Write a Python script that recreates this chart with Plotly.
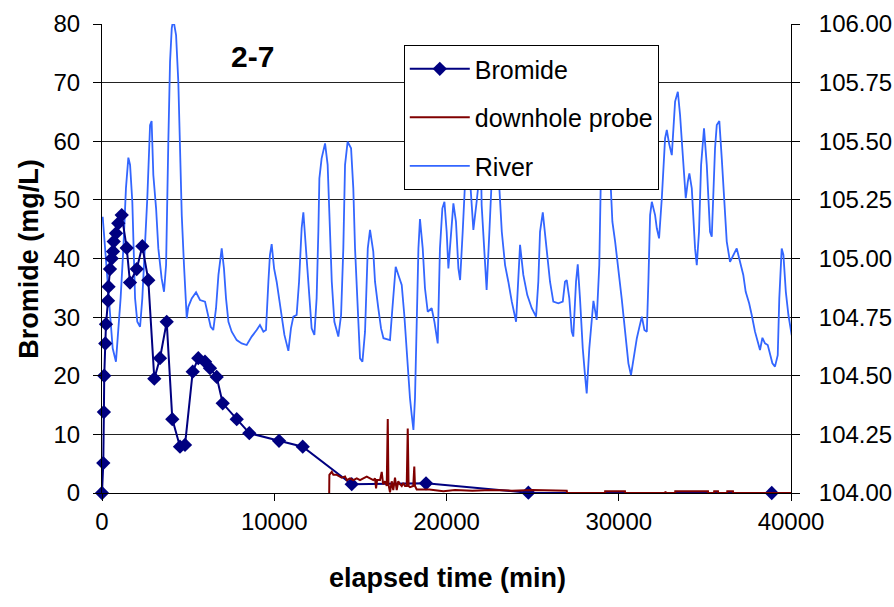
import plotly.graph_objects as go

# ---------------- data ----------------
bromide_t = [0, 75, 110, 130, 192, 232, 350, 380, 464, 563,
             640, 680, 813, 946, 1144, 1434, 1626, 2015, 2340, 2688,
             3037, 3367, 3756, 4082, 4529, 4819, 5266, 5591, 5980, 6270,
             6659, 7008, 7821, 8552, 10277, 11653, 14498, 18811, 24751, 38882]
bromide_v = [0, 5.1, 13.8, 20.0, 25.5, 28.8, 32.8, 35.2, 38.2, 40.0,
             41.2, 42.9, 44.3, 46.0, 47.4, 41.8, 35.9, 38.2, 42.1, 36.3,
             19.5, 23.0, 29.2, 12.6, 7.9, 8.2, 20.7, 23.0, 22.4, 21.3,
             19.8, 15.3, 12.6, 10.2, 8.9, 7.9, 1.5, 1.65, 0.05, 0]

probe_t = [13190, 13200, 13340, 13430, 13630, 13780, 13920, 14110, 14210, 14400,
           14590, 14790, 14980, 15170, 15370, 15560, 15750, 15850, 15910, 15970,
           16140, 16240, 16320, 16430, 16530, 16590, 16630, 16720, 16820, 16910,
           17010, 17110, 17200, 17300, 17400, 17490, 17590, 17690, 17750, 17800,
           17880, 18070, 18130, 18170, 18270, 19000, 19820, 20500, 21500, 22600,
           23800, 25000, 26000, 26980, 27000, 29200, 29210, 30360, 30370, 32690,
           32700, 32750, 33270, 33280, 35180, 35190, 35530, 35540, 35760, 35770,
           36290, 36300, 36630, 36640, 40500]
probe_v = [0, 3.1, 3.6, 3.1, 3.1, 2.8, 2.6, 2.8, 2.2, 2.5,
           2.2, 2.5, 2.2, 2.5, 2.8, 2.5, 2.2, 2.5, 0.8, 2.2,
           2.2, 3.6, 1.5, 2.0, 1.2, 12.6, 1.5, 0.1, 2.0, 0.5,
           2.6, 0.5, 2.0, 1.5, 1.2, 1.7, 1.2, 1.2, 11.0, 1.2,
           1.0, 1.2, 4.5, 1.2, 0.6, 0.6, 0.3, 0.5, 0.4, 0.5,
           0.4, 0.5, 0.4, 0.4, 0, 0, 0.3, 0.3, 0, 0,
           0.25, 0, 0, 0.3, 0.3, 0, 0, 0.3, 0.3, 0,
           0, 0.3, 0.3, 0, 0]

river_t = [40, 170, 310, 460, 620, 810, 950, 1080, 1240, 1390,
           1530, 1630, 1760, 1820, 1920, 2050, 2210, 2340, 2500, 2630,
           2790, 2880, 2980, 3140, 3270, 3460, 3600, 3720, 3850, 3950,
           4050, 4140, 4300, 4430, 4530, 4630, 4760, 4920, 5010, 5210,
           5460, 5690, 5980, 6170, 6310, 6460, 6620, 6760, 6950, 7080,
           7200, 7340, 7530, 7820, 8110, 8400, 8690, 8980, 9170, 9370,
           9520, 9660, 9750, 9850, 9990, 10140, 10280, 10430, 10590, 10820,
           10970, 11110, 11300, 11440, 11590, 11690, 11820, 11980, 12170, 12330,
           12460, 12560, 12620, 12750, 12950, 13100, 13200, 13340, 13490, 13720,
           13880, 14010, 14110, 14260, 14460, 14590, 14690, 14830, 14980, 15120,
           15270, 15430, 15560, 15750, 15850, 16040, 16200, 16340, 16720, 16860,
           17050, 17240, 17400, 17550, 17730, 17880, 17980, 18080, 18170, 18270,
           18370, 18460, 18620, 18750, 18910, 19140, 19300, 19490, 19620, 19760,
           19880, 20010, 20110, 20400, 20550, 20690, 20790, 20940, 21080, 21160,
           21400, 21560, 21750, 22000, 22040, 22200, 22330, 22490, 22620, 22820,
           23070, 23210, 23400, 23590, 23790, 24040, 24170, 24270, 24460, 24690,
           24950, 25200, 25330, 25430, 25590, 25820, 26010, 26200, 26490, 26750,
           26880, 26980, 27130, 27270, 27360, 27520, 27620, 27750, 27910, 28040,
           28140, 28290, 28430, 28530, 28720, 28870, 28950, 29200, 29540, 29630,
           29790, 29980, 30170, 30370, 30560, 30710, 30850, 31050, 31180, 31340,
           31490, 31630, 31720, 31820, 31920, 32110, 32210, 32340, 32500, 32690,
           32790, 32920, 33080, 33170, 33270, 33430, 33560, 33690, 33790, 33890,
           34010, 34100, 34240, 34330, 34430, 34530, 34660, 34780, 34950, 35110,
           35200, 35300, 35400, 35490, 35590, 35690, 35840, 35980, 36070, 36170,
           36270, 36460, 36650, 36850, 37040, 37230, 37370, 37570, 37720, 37910,
           38070, 38200, 38340, 38490, 38650, 38780, 38920, 39070, 39230, 39320,
           39460, 39560, 39700, 39850, 40040, 40240, 40530]
river_v = [105.178, 105.043, 104.901, 104.759, 104.617, 104.560, 104.688, 104.830, 105.043, 105.299,
           105.430, 105.399, 105.242, 105.043, 104.830, 104.730, 104.709, 104.830, 105.043, 105.257,
           105.569, 105.586, 105.356, 105.214, 105.043, 104.916, 104.858, 104.972, 105.498, 105.839,
           105.982, 106.020, 105.953, 105.754, 105.470, 105.185, 104.972, 104.745, 104.794, 104.830,
           104.856, 104.823, 104.816, 104.759, 104.709, 104.695, 104.788, 104.930, 105.043, 104.958,
           104.830, 104.730, 104.688, 104.652, 104.638, 104.631, 104.667, 104.695, 104.716, 104.688,
           104.695, 104.901, 105.015, 105.061, 104.958, 104.901, 104.830, 104.759, 104.674, 104.606,
           104.702, 104.752, 104.759, 104.901, 105.129, 105.197, 105.072, 104.901, 104.702, 104.674,
           104.830, 105.114, 105.342, 105.427, 105.491, 105.399, 105.185, 104.901, 104.730, 104.667,
           104.759, 105.043, 105.399, 105.498, 105.470, 105.299, 105.043, 104.830, 104.574, 104.560,
           104.688, 105.043, 105.122, 105.029, 104.901, 104.788, 104.702, 104.660, 104.652, 104.788,
           104.965, 104.922, 104.887, 104.759, 104.546, 104.404, 104.333, 104.269, 104.404, 104.688,
           105.043, 105.168, 105.043, 104.873, 104.773, 104.788, 104.730, 104.638, 105.043, 105.214,
           105.242, 105.114, 104.958, 105.235, 105.157, 104.958, 104.908, 105.114, 105.328, 105.450,
           105.299, 105.122, 105.242, 105.420, 105.228, 105.015, 104.866, 105.114, 105.328, 105.500,
           105.299, 105.114, 104.972, 104.901, 104.816, 104.730, 104.901, 105.058, 104.930, 104.844,
           104.788, 104.752, 104.901, 105.114, 105.197, 105.043, 104.901, 104.816, 104.809, 104.816,
           104.901, 104.908, 104.830, 104.688, 104.667, 104.901, 104.975, 104.830, 104.617, 104.503,
           104.425, 104.617, 104.759, 104.819, 104.738, 104.972, 105.299, 105.600, 105.299, 105.157,
           105.072, 104.958, 104.830, 104.688, 104.553, 104.503, 104.574, 104.660, 104.702, 104.752,
           104.695, 104.688, 104.901, 105.185, 105.242, 105.185, 105.129, 105.086, 105.257, 105.513,
           105.548, 105.491, 105.441, 105.541, 105.669, 105.711, 105.612, 105.470, 105.356, 105.257,
           105.328, 105.363, 105.299, 105.185, 105.043, 104.972, 105.114, 105.399, 105.555, 105.399,
           105.257, 105.114, 105.093, 105.257, 105.470, 105.569, 105.586, 105.427, 105.328, 105.185,
           105.072, 104.986, 105.015, 105.043, 104.986, 104.930, 104.858, 104.809, 104.759, 104.688,
           104.645, 104.610, 104.662, 104.638, 104.631, 104.588, 104.553, 104.539, 104.588, 104.830,
           105.043, 105.015, 104.858, 104.759, 104.674, 104.660, 104.674]

x_ticks = [0, 10000, 20000, 30000, 40000]
left_ticks = [0, 10, 20, 30, 40, 50, 60, 70, 80]
right_ticks = [104.0, 104.25, 104.5, 104.75, 105.0, 105.25, 105.5, 105.75, 106.0]

FONT = "Liberation Sans, Arial, sans-serif"

fig = go.Figure()
fig.add_trace(go.Scatter(
    x=bromide_t, y=bromide_v, name="Bromide", yaxis="y2", mode="lines+markers",
    line=dict(color="#000080", width=2),
    marker=dict(symbol="diamond", size=11, color="#000080"),
    legendgroup="a", legendrank=1, cliponaxis=False))
fig.add_trace(go.Scatter(
    x=probe_t, y=probe_v, name="downhole probe", yaxis="y2", mode="lines",
    line=dict(color="#800000", width=2), legendgroup="b", legendrank=2))
fig.add_trace(go.Scatter(
    x=river_t, y=river_v, name="River", yaxis="y", mode="lines",
    line=dict(color="#3366FF", width=1.8), legendgroup="c", legendrank=3))

fig.update_layout(
    width=894, height=607,
    margin=dict(l=102, r=103, t=24, b=114, autoexpand=False),
    paper_bgcolor="white", plot_bgcolor="white",
    font=dict(family=FONT, size=24, color="black"),
    showlegend=True,
    legend=dict(x=0.438, y=0.955, xanchor="left", yanchor="top",
                bgcolor="white", bordercolor="black", borderwidth=1,
                font=dict(family=FONT, size=25, color="black"),
                itemwidth=60, traceorder="grouped", tracegroupgap=13),
    xaxis=dict(range=[0, 40000], tickvals=x_ticks, ticktext=[str(v) for v in x_ticks],
               showline=True, linecolor="black", linewidth=1,
               ticks="outside", ticklen=7, tickcolor="black",
               showgrid=False, zeroline=False, automargin=False,
               tickfont=dict(family=FONT, size=24)),
    yaxis=dict(range=[104, 106], side="right", tickvals=right_ticks,
               ticktext=["%.2f" % v for v in right_ticks],
               showline=True, linecolor="black", linewidth=1,
               ticks="outside", ticklen=8, tickcolor="black",
               ticklabelstandoff=14, automargin=False,
               showgrid=False, zeroline=False,
               tickfont=dict(family=FONT, size=24)),
    yaxis2=dict(range=[0, 80], side="left", overlaying="y", tickvals=left_ticks,
                showline=True, linecolor="black", linewidth=1,
                ticks="outside", ticklen=8, tickcolor="black",
                ticklabelstandoff=8, automargin=False,
                showgrid=True, gridcolor="#222222", gridwidth=1, zeroline=False,
                tickfont=dict(family=FONT, size=24)),
    annotations=[
        dict(text="<b>2-7</b>", xref="paper", yref="paper", x=0.218, y=0.93,
             xanchor="center", yanchor="middle",
             showarrow=False, font=dict(family=FONT, size=30, color="black")),
        dict(text="<b>Bromide (mg/L)</b>", xref="paper", yref="paper", x=-0.107, y=0.5,
             textangle=-90, showarrow=False, xanchor="center", yanchor="middle",
             font=dict(family=FONT, size=27, color="black")),
        dict(text="<b>elapsed time (min)</b>", xref="paper", yref="paper", x=0.502, y=-0.181,
             showarrow=False, xanchor="center", yanchor="middle",
             font=dict(family=FONT, size=27, color="black")),
    ],
)

fig.write_html("out.html", config={"displayModeBar": False},
               post_script="document.body.style.margin='0';")
